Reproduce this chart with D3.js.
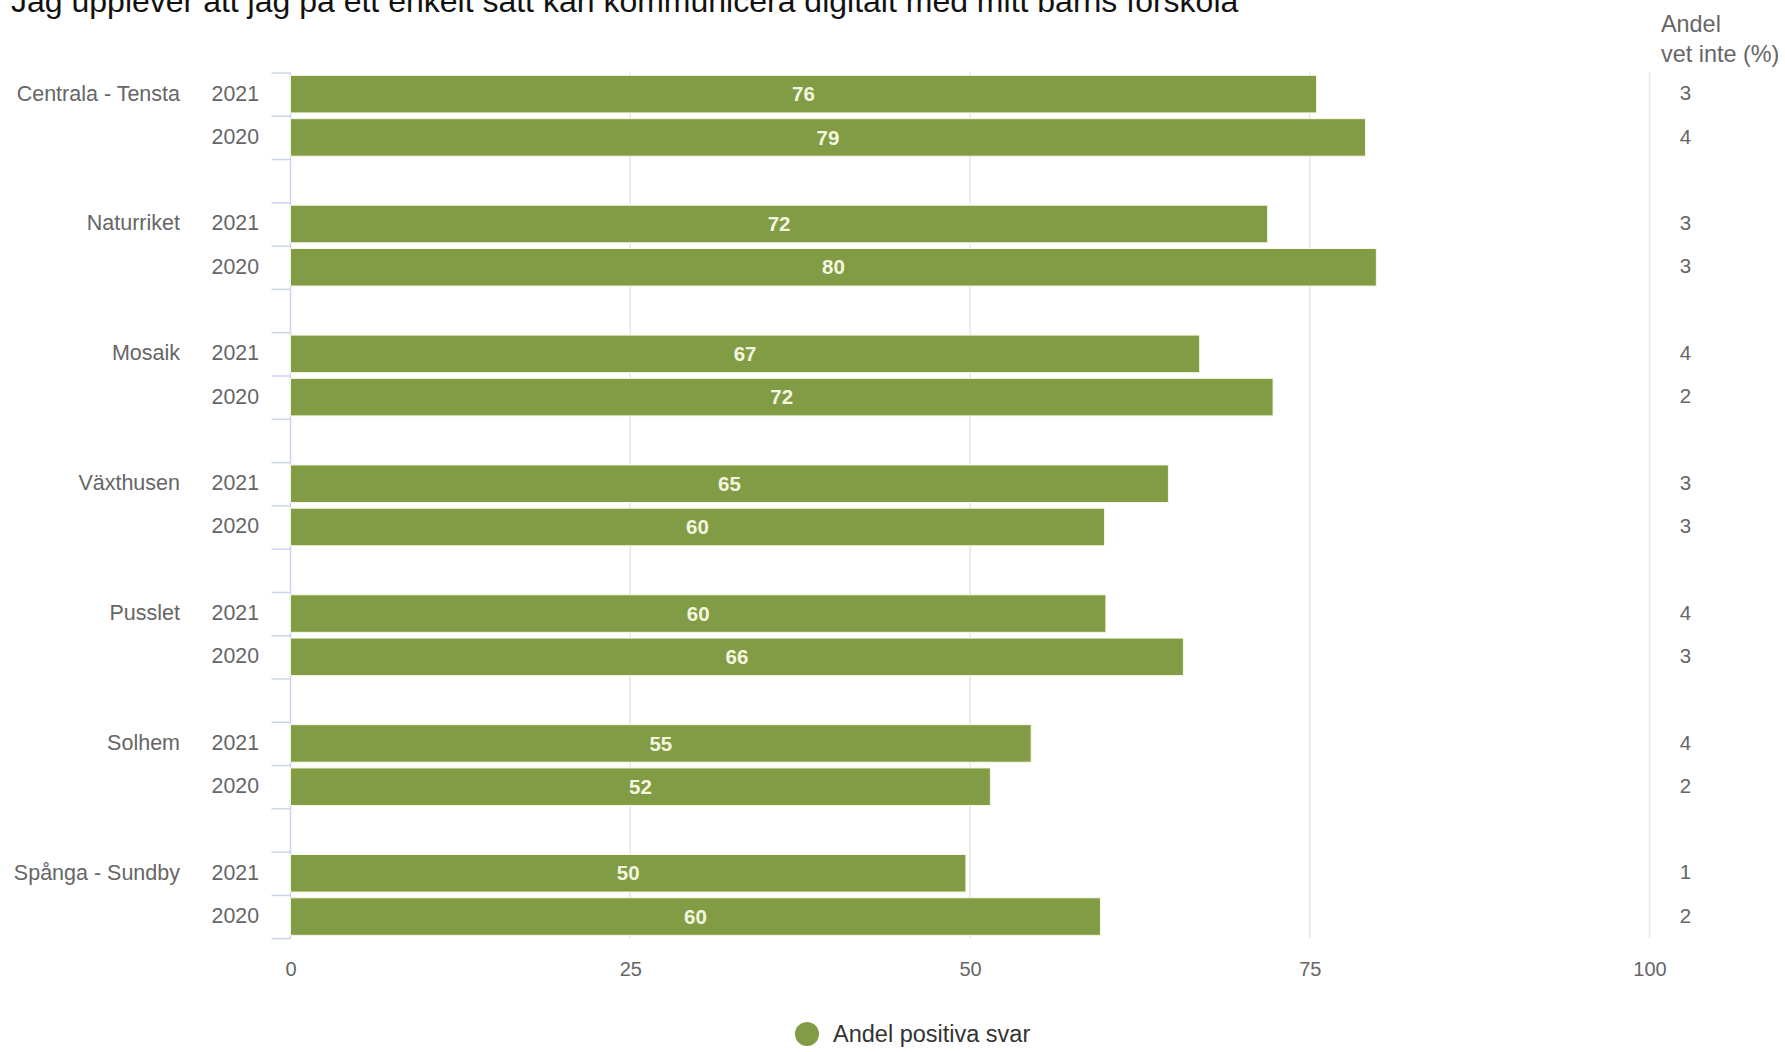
<!DOCTYPE html>
<html>
<head>
<meta charset="utf-8">
<script src="https://cdn.jsdelivr.net/npm/d3@7"></script>
<style>
  html, body { margin: 0; padding: 0; background: #fff; }
  svg { display: block; font-family: "Liberation Sans", Arial, Helvetica, sans-serif; }
</style>
</head>
<body>
<svg id="chart" width="1785" height="1052"></svg>
<script>
// ---- Data ----
const title = "Jag upplever att jag på ett enkelt sätt kan kommunicera digitalt med mitt barns förskola";
const groups = ["Centrala - Tensta", "Naturriket", "Mosaik", "Växthusen", "Pusslet", "Solhem", "Spånga - Sundby"];
const years = ["2021", "2020"];
const positive2021 = [75.5, 71.9, 66.9, 64.6, 60.0, 54.5, 49.7];
const positive2020 = [79.1, 79.9, 72.3, 59.9, 65.7, 51.5, 59.6];
const vetInte2021 = [3, 3, 4, 3, 4, 4, 1];
const vetInte2020 = [4, 3, 2, 3, 3, 2, 2];
const xTicks = [0, 25, 50, 75, 100];
const seriesName = "Andel positiva svar";
const sideHeader = ["Andel", "vet inte (%)"];

// ---- Build rows (2021, 2020, spacer per group; no spacer after last) ----
const rows = [];
groups.forEach((g, i) => {
  rows.push({ key: g + "|2021", group: g, year: years[0], value: positive2021[i], vet: vetInte2021[i], first: true });
  rows.push({ key: g + "|2020", group: g, year: years[1], value: positive2020[i], vet: vetInte2020[i], first: false });
  if (i < groups.length - 1) rows.push({ key: g + "|spacer", spacer: true });
});

const green = "#829c45";
const svg = d3.select("#chart");

const x = d3.scaleLinear().domain([0, 100]).range([290.5, 1649.5]);
const y = d3.scaleBand().domain(rows.map(r => r.key)).range([72.5, 938.2])
  .paddingInner(0.133).paddingOuter(0.0665);
const boundary = d3.scaleLinear().domain([0, rows.length]).range([72.5, 938.2]);

// Title (clipped at the top edge, as in the reference)
svg.append("text").attr("x", 11).attr("y", 12)
  .attr("font-size", 32).attr("fill", "#111").text(title);

// Gridlines
svg.append("g").selectAll("line").data(xTicks).join("line")
  .attr("x1", d => x(d)).attr("x2", d => x(d))
  .attr("y1", 72.5).attr("y2", 938.2)
  .attr("stroke", "#e6e6e6").attr("stroke-width", 1.5);

// Category axis ticks (at band boundaries)
const tickAxis = svg.append("g").attr("transform", `translate(${x(0)},0)`)
  .call(d3.axisLeft(boundary).tickValues(d3.range(rows.length + 1)).tickSize(19).tickFormat(""));
tickAxis.selectAll("line").attr("stroke", "#ccd6eb").attr("stroke-width", 1.5);
tickAxis.select(".domain").remove();
svg.append("line").attr("x1", x(0)).attr("x2", x(0)).attr("y1", 72.5).attr("y2", 938.2)
  .attr("stroke", "#ccd6eb").attr("stroke-width", 1.2);

const dataRows = rows.filter(r => !r.spacer);

// Bars
svg.append("g").selectAll("rect").data(dataRows).join("rect")
  .attr("x", x(0)).attr("y", d => y(d.key))
  .attr("width", d => x(d.value) - x(0)).attr("height", y.bandwidth())
  .attr("fill", green).attr("stroke", "#f6f8e4").attr("stroke-width", 1);

// Value labels inside bars
svg.append("g").selectAll("text").data(dataRows).join("text")
  .attr("x", d => (x(0) + x(d.value)) / 2)
  .attr("y", d => y(d.key) + y.bandwidth() / 2)
  .attr("dy", "0.35em").attr("text-anchor", "middle")
  .attr("font-size", 20.5).attr("font-weight", "bold").attr("fill", "#f3f6df")
  .text(d => Math.round(d.value));

// Year labels
svg.append("g").selectAll("text").data(dataRows).join("text")
  .attr("x", 259).attr("y", d => y(d.key) + y.bandwidth() / 2)
  .attr("dy", "0.3em").attr("text-anchor", "end")
  .attr("font-size", 21.3).attr("fill", "#666").text(d => d.year);

// Group labels
svg.append("g").selectAll("text").data(dataRows.filter(d => d.first)).join("text")
  .attr("x", 180).attr("y", d => y(d.key) + y.bandwidth() / 2)
  .attr("dy", "0.3em").attr("text-anchor", "end")
  .attr("font-size", 21.5).attr("fill", "#666").text(d => d.group);

// Right "vet inte" values
svg.append("g").selectAll("text").data(dataRows).join("text")
  .attr("x", 1685.5).attr("y", d => y(d.key) + y.bandwidth() / 2)
  .attr("dy", "0.3em").attr("text-anchor", "middle")
  .attr("font-size", 20.5).attr("fill", "#666").text(d => d.vet);

// Right header
svg.append("g").selectAll("text").data(sideHeader).join("text")
  .attr("x", 1661).attr("y", (d, i) => 31.7 + i * 30)
  .attr("font-size", 23.4).attr("fill", "#666").text(d => d);

// X axis labels
const xAxis = svg.append("g").attr("transform", "translate(0,938.2)")
  .call(d3.axisBottom(x).tickValues(xTicks).tickSize(0).tickPadding(23.6));
xAxis.select(".domain").remove();
xAxis.selectAll("text").attr("font-size", 20).attr("fill", "#666")
  .attr("font-family", "'Liberation Sans', Arial, sans-serif");

// Legend
svg.append("circle").attr("cx", 807).attr("cy", 1034).attr("r", 12).attr("fill", green);
svg.append("text").attr("x", 833).attr("y", 1042)
  .attr("font-size", 23.5).attr("fill", "#333").text(seriesName);
</script>
</body>
</html>
